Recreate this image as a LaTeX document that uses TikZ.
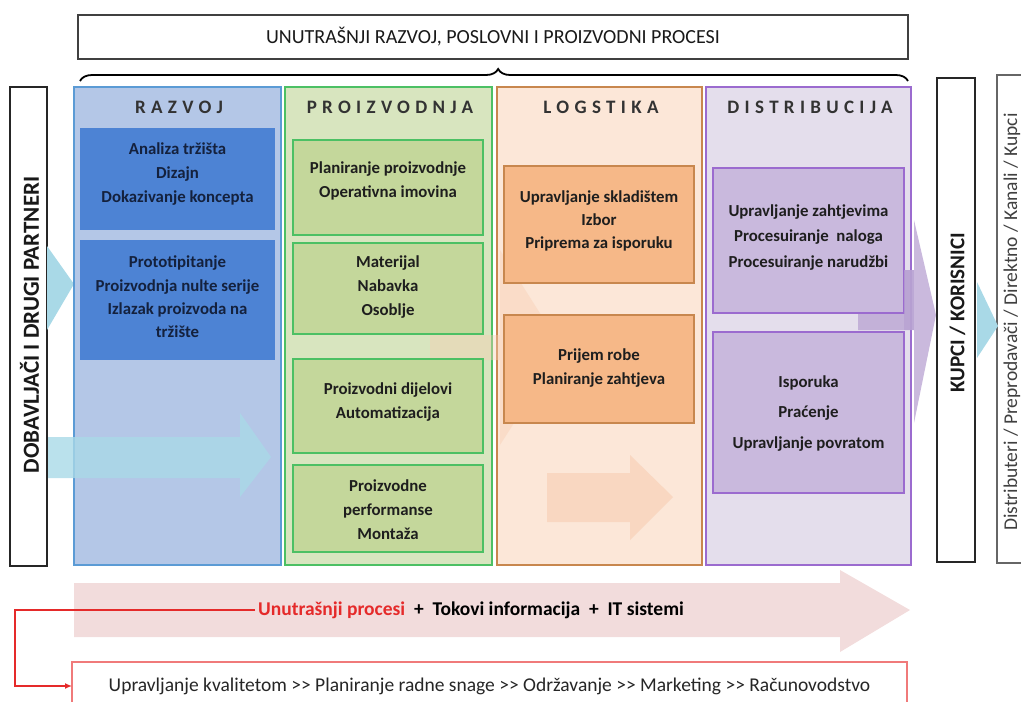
\documentclass[tikz,border=0pt]{standalone}
\usepackage{fontspec}
\setmainfont{Carlito}
\usetikzlibrary{decorations.pathreplacing,arrows.meta}
\definecolor{rFill}{HTML}{B4C7E7}
\definecolor{rLine}{HTML}{5B9BD5}
\definecolor{rBox}{HTML}{4D83D4}
\definecolor{rTxt}{HTML}{14213D}
\definecolor{pFill}{HTML}{D8E5BF}
\definecolor{pLine}{HTML}{4CC064}
\definecolor{pBox}{HTML}{C4D79B}
\definecolor{lFill}{HTML}{FCE7D8}
\definecolor{lLine}{HTML}{C8874E}
\definecolor{lBox}{HTML}{F6B888}
\definecolor{dFill}{HTML}{E4DEEC}
\definecolor{dLine}{HTML}{9B6BCF}
\definecolor{dBox}{HTML}{C9B9DD}
\definecolor{pinkArrow}{HTML}{F2DCDC}
\definecolor{cyanArrow}{HTML}{A9D9E7}
\definecolor{peachArrow}{HTML}{F7CDB2}
\definecolor{purpArrow}{HTML}{B8A2D2}
\definecolor{redLine}{HTML}{E52A2A}
\definecolor{redBox}{HTML}{F07A7A}
\definecolor{txt}{HTML}{1E1E1E}
\begin{document}
\begin{tikzpicture}[x=1pt,y=-1pt,
  every node/.style={inner sep=0pt, outer sep=0pt},
  colbox/.style={draw, line width=1.8pt},
  ibox/.style={draw, line width=1.3pt},
  sidebox/.style={draw=black!85, line width=1.8pt, fill=white},
  btxt/.style={font=\bfseries\fontsize{16.8}{24}\selectfont, align=center, text=txt},
  hdr/.style={font=\bfseries\fontsize{19}{22}\selectfont\addfontfeature{LetterSpace=28}, text=black!80},
  vtxt/.style={rotate=90, font=\bfseries\fontsize{#1}{24}\selectfont, text=black!90}
]
\useasboundingbox (0,0) rectangle (1021,702);

% title and brace
\node[draw=black!75, line width=1.8pt, minimum width=830pt, minimum height=44pt,
      font=\fontsize{20}{24}\selectfont, text=black!90] (title) at (493,37)
      {UNUTRAŠNJI RAZVOJ, POSLOVNI I PROIZVODNI PROCESI};
\coordinate (brL) at (80,81);
\coordinate (brR) at (908,81);
\draw[line width=1.8pt, decorate, decoration={brace, amplitude=12pt, aspect=0.505}] (brL) -- (brR);

% side boxes
\node[sidebox, minimum width=37pt, minimum height=479pt] (dob) at (28.5,326.5) {};
\node[vtxt=23] (dobt) at (29.5,325) {DOBAVLJAČI I DRUGI PARTNERI};

% left cyan arrow head (body hidden behind supplier box)
\fill[cyanArrow] (47,246) -- (74,284) -- (47,330) -- cycle;

% columns
\node[colbox, draw=rLine, fill=rFill, minimum width=207pt, minimum height=478pt] (razvoj) at (177.5,326) {};
\node[colbox, draw=pLine, fill=pFill, minimum width=207pt, minimum height=478pt] (proiz) at (388.5,326) {};
\node[colbox, draw=lLine, fill=lFill, minimum width=205pt, minimum height=478pt] (logst) at (599.5,326) {};
\node[colbox, draw=dLine, fill=dFill, minimum width=205pt, minimum height=478pt] (distr) at (808.5,326) {};

% faint background arrows
\fill[cyanArrow, opacity=0.8] (48,437) -- (240,437) -- (240,413) -- (271,457) -- (240,497) -- (240,478) -- (48,478) -- cycle;
\fill[peachArrow, opacity=0.4] (430,335) -- (500,335) -- (500,250) -- (562,348) -- (500,445) -- (500,360) -- (430,360) -- cycle;
\fill[peachArrow, opacity=0.6] (547,473) -- (630,473) -- (630,455) -- (673,497) -- (630,540) -- (630,522) -- (547,522) -- cycle;
\fill[purpArrow, opacity=0.75] (858,270) -- (914,270) -- (914,220) -- (936,315) -- (914,423) -- (914,330) -- (858,330) -- cycle;

% headers
\node[hdr] (h1) at (179,107) {RAZVOJ};
\node[hdr] (h2) at (390,107) {PROIZVODNJA};
\node[hdr] (h3) at (601,107) {LOGSTIKA};
\node[hdr] (h4) at (810,107) {DISTRIBUCIJA};

% razvoj boxes
\node[fill=rBox, minimum width=195pt, minimum height=102pt] (rb1) at (177.5,179) {};
\node[fill=rBox, minimum width=195pt, minimum height=120pt] (rb2) at (177.5,300) {};
\node[btxt, text=rTxt] (rb1t) at (177.5,174) {Analiza tržišta\\Dizajn\\Dokazivanje koncepta};
\node[btxt, text=rTxt, font=\bfseries\fontsize{16.8}{23.3}\selectfont] (rb2t) at (177.5,297) {Prototipitanje\\Proizvodnja nulte serije\\Izlazak proizvoda na\\tržište};

% proizvodnja boxes
\node[ibox, draw=pLine, fill=pBox, minimum width=190pt, minimum height=95pt] (pb1) at (388,187.5) {};
\node[ibox, draw=pLine, fill=pBox, minimum width=190pt, minimum height=91pt] (pb2) at (388,288.5) {};
\node[ibox, draw=pLine, fill=pBox, minimum width=190pt, minimum height=94pt] (pb3) at (388,406) {};
\node[ibox, draw=pLine, fill=pBox, minimum width=190pt, minimum height=87pt] (pb4) at (388,508.5) {};
\node[btxt] (pb1t) at (388,181) {Planiranje proizvodnje\\Operativna imovina};
\node[btxt] (pb2t) at (388,287) {Materijal\\Nabavka\\Osoblje};
\node[btxt] (pb3t) at (388,402) {Proizvodni dijelovi\\Automatizacija};
\node[btxt] (pb4t) at (388,510) {Proizvodne\\performanse\\Montaža};

% logistika boxes
\node[ibox, draw=lLine, fill=lBox, minimum width=190pt, minimum height=117pt] (lb1) at (599,224.5) {};
\node[ibox, draw=lLine, fill=lBox, minimum width=190pt, minimum height=108pt] (lb2) at (599,369) {};
\node[btxt, font=\bfseries\fontsize{16.8}{23}\selectfont] (lb1t) at (599,221) {Upravljanje skladištem\\Izbor\\Priprema za isporuku};
\node[btxt] (lb2t) at (599,368) {Prijem robe\\Planiranje zahtjeva};

% distribucija boxes
\node[ibox, draw=dLine, fill=dBox, minimum width=191pt, minimum height=145pt] (db1) at (808.5,240.5) {};
\node[ibox, draw=dLine, fill=dBox, minimum width=191pt, minimum height=161pt] (db2) at (808.5,412.5) {};
\node[btxt, font=\bfseries\fontsize{16.8}{25.5}\selectfont] (db1t) at (808.5,237.5) {Upravljanje zahtjevima\\Procesuiranje\ \ naloga\\Procesuiranje narudžbi};
\node[btxt, font=\bfseries\fontsize{16.8}{30.5}\selectfont] (db2t) at (808.5,413.5) {Isporuka\\Praćenje\\Upravljanje povratom};

% purple arrow part visible over the column border
\fill[purpArrow, opacity=0.75] (904,270) -- (914,270) -- (914,330) -- (904,330) -- cycle;

% right side boxes
\node[sidebox, minimum width=38pt, minimum height=484pt] (kupci) at (956,320) {};
\node[vtxt=21] (kupcit) at (957.5,313) {KUPCI / KORISNICI};
\node[draw=black!60, line width=1.2pt, fill=white, minimum width=40pt, minimum height=488pt] (distrib) at (1017,319) {};
\node[rotate=90, font=\fontsize{19.5}{22}\selectfont, text=black!75] (distribt) at (1012,322) {Distributeri / Preprodavači / Direktno / Kanali / Kupci};
\fill[cyanArrow] (977,282) -- (998,326) -- (977,358) -- cycle;

% bottom pink arrow
\fill[pinkArrow] (74,583) -- (840,583) -- (840,570) -- (910,610) -- (840,652) -- (840,637) -- (74,637) -- cycle;
\node[font=\bfseries\fontsize{19.5}{22}\selectfont] (flow) at (471,610)
  {\textcolor{redLine}{Unutrašnji procesi}\ \ + \ Tokovi informacija \ + \ IT sistemi};

% bottom box
\node[draw=redBox, line width=1.3pt, fill=white, minimum width=835pt, minimum height=48pt,
      font=\fontsize{19.5}{22}\selectfont, text=black!85] (qbox) at (489.5,686)
      {Upravljanje kvalitetom >\kern0pt> Planiranje radne snage >\kern0pt> Održavanje >\kern0pt> Marketing >\kern0pt> Računovodstvo};

% red connector
\coordinate (rc) at (15,610);
\draw[redLine, line width=1.6pt, -{Latex[length=7pt,width=6pt]}] ([xshift=-3pt]flow.west) -- (rc) |- (qbox.west);
\end{tikzpicture}
\end{document}
